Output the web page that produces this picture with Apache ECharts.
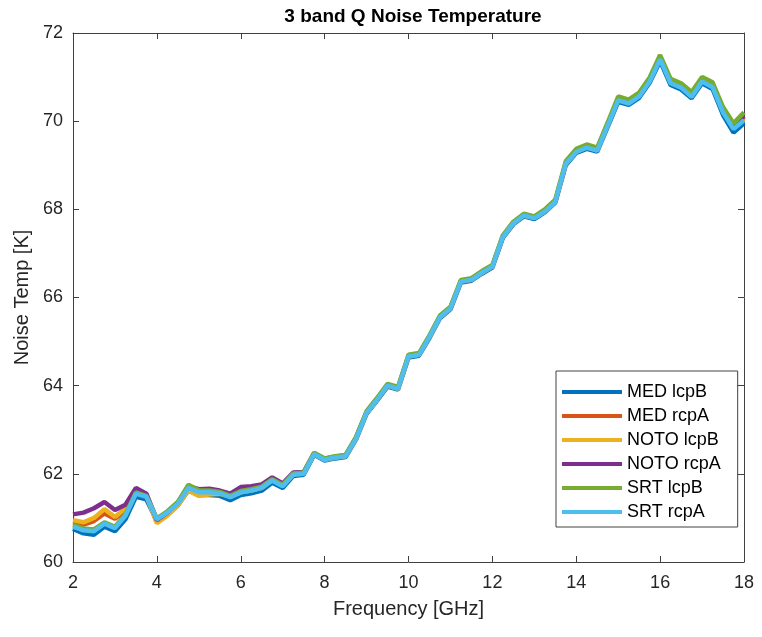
<!DOCTYPE html>
<html>
<head>
<meta charset="utf-8">
<script src="https://cdn.jsdelivr.net/npm/echarts@6/dist/echarts.min.js"></script>
<style>html,body{margin:0;padding:0;background:#fff;}#c{width:762px;height:637px;}</style>
</head>
<body>
<div id="c"></div>
<script>
// Frequency points (GHz), step 0.25 from 2 to 18
var freq = [2.00,2.25,2.50,2.75,3.00,3.25,3.50,3.75,4.00,4.25,4.50,4.75,5.00,5.25,5.50,5.75,
  6.00,6.25,6.50,6.75,7.00,7.25,7.50,7.75,8.00,8.25,8.50,8.75,9.00,9.25,9.50,9.75,
  10.00,10.25,10.50,10.75,11.00,11.25,11.50,11.75,12.00,12.25,12.50,12.75,13.00,13.25,13.50,13.75,
  14.00,14.25,14.50,14.75,15.00,15.25,15.50,15.75,16.00,16.25,16.50,16.75,17.00,17.25,17.50,17.75,18.00];

var medLcpB = [60.75,60.65,60.62,60.80,60.70,60.97,61.48,61.42,60.93,61.08,61.28,61.62,61.52,61.52,61.50,61.40,
  61.52,61.56,61.62,61.80,61.68,61.95,61.98,62.43,62.30,62.35,62.38,62.78,63.36,63.66,63.98,63.91,
  64.64,64.68,65.08,65.53,65.73,66.34,66.38,66.54,66.68,67.35,67.66,67.84,67.78,67.93,68.15,69.00,
  69.28,69.37,69.31,69.87,70.44,70.37,70.53,70.87,71.36,70.82,70.72,70.52,70.86,70.73,70.14,69.74,69.95];

var medRcpA = [60.90,60.85,60.93,61.10,60.98,61.17,61.65,61.52,60.90,61.08,61.30,61.70,61.62,61.62,61.58,61.50,
  61.60,61.64,61.70,61.87,61.74,62.00,62.02,62.46,62.33,62.38,62.41,62.81,63.39,63.69,64.01,63.94,
  64.67,64.71,65.11,65.56,65.76,66.37,66.41,66.57,66.71,67.38,67.69,67.87,67.81,67.96,68.18,69.04,
  69.32,69.42,69.35,69.92,70.50,70.43,70.59,70.93,71.44,70.90,70.80,70.60,70.95,70.82,70.25,69.88,70.10];

var notoLcpB = [60.95,60.90,61.00,61.20,61.02,61.22,61.62,61.50,60.88,61.05,61.28,61.62,61.50,61.53,61.55,61.48,
  61.58,61.62,61.68,61.86,61.73,61.99,62.01,62.45,62.32,62.37,62.40,62.80,63.38,63.68,64.00,63.93,
  64.66,64.70,65.10,65.55,65.75,66.36,66.40,66.56,66.70,67.37,67.68,67.86,67.80,67.95,68.17,69.03,
  69.31,69.41,69.34,69.91,70.49,70.42,70.58,70.92,71.43,70.89,70.79,70.58,70.93,70.80,70.22,69.86,70.06];

var notoRcpA = [61.08,61.12,61.22,61.36,61.18,61.30,61.68,61.55,60.95,61.12,61.35,61.72,61.65,61.66,61.62,61.55,
  61.70,61.72,61.76,61.92,61.78,62.03,62.04,62.47,62.34,62.39,62.42,62.82,63.40,63.70,64.01,63.95,
  64.67,64.71,65.11,65.56,65.76,66.37,66.41,66.57,66.71,67.38,67.69,67.87,67.81,67.96,68.18,69.04,
  69.32,69.42,69.35,69.92,70.50,70.43,70.59,70.93,71.44,70.91,70.81,70.60,70.96,70.84,70.26,69.90,70.12];

var srtLcpB = [60.84,60.76,60.74,60.90,60.80,61.08,61.58,61.50,60.99,61.15,61.36,61.75,61.63,61.62,61.59,61.50,
  61.61,61.65,61.71,61.88,61.75,62.01,62.03,62.48,62.35,62.40,62.43,62.84,63.42,63.72,64.04,63.97,
  64.70,64.74,65.14,65.59,65.79,66.40,66.44,66.60,66.74,67.41,67.72,67.90,67.84,68.00,68.22,69.09,
  69.37,69.47,69.40,69.97,70.56,70.49,70.65,70.99,71.50,70.96,70.86,70.66,71.00,70.88,70.32,69.95,70.20];

var srtRcpA = [60.80,60.72,60.70,60.87,60.77,61.05,61.55,61.48,60.97,61.12,61.32,61.68,61.58,61.58,61.56,61.47,
  61.58,61.62,61.68,61.85,61.72,61.98,62.00,62.45,62.32,62.37,62.40,62.80,63.38,63.68,64.00,63.93,
  64.66,64.70,65.10,65.55,65.75,66.36,66.40,66.56,66.70,67.37,67.68,67.86,67.80,67.95,68.17,69.03,
  69.30,69.40,69.33,69.90,70.47,70.40,70.56,70.90,71.40,70.86,70.76,70.55,70.90,70.77,70.20,69.82,70.02];

var seriesNames = ['MED lcpB','MED rcpA','NOTO lcpB','NOTO rcpA','SRT lcpB','SRT rcpA'];
var seriesValues = [medLcpB, medRcpA, notoLcpB, notoRcpA, srtLcpB, srtRcpA];
var colors = ['#0072BD','#D95319','#EDB120','#7E2F8E','#77AC30','#4DBEEE'];

var font = "'Liberation Sans', Arial, Helvetica, sans-serif";
var txt = '#262626';
var axisCol = '#404040';

function pairs(vals){ return freq.map(function(f,i){ return [f, vals[i]]; }); }

var chart = echarts.init(document.getElementById('c'), null, {renderer:'canvas'});
var common = {
  axisLine:{show:true, onZero:false, lineStyle:{color:axisCol, width:1}},
  axisTick:{show:true, inside:true, length:6, lineStyle:{color:axisCol}},
  splitLine:{show:false}
};
chart.setOption({
  animation:false,
  backgroundColor:'#fff',
  color: colors,
  title:{text:'3 band Q Noise Temperature', left:408, textAlign:'center', top:2,
    textStyle:{fontFamily:font, fontWeight:'bold', fontSize:19, color:'#000'}},
  grid:{left:73, right:18, top:33, bottom:75, containLabel:false},
  legend:{
    orient:'vertical', left:556, top:371,
    padding:[12,17,6,6], itemGap:6, itemWidth:60, itemHeight:18,
    icon:'path://M0,0L60,0L60,4L0,4Z',
    backgroundColor:'#fff', borderColor:'#404040', borderWidth:1, borderRadius:0,
    textStyle:{fontFamily:font, fontSize:18, color:'#000', padding:[0,0,0,0]},
    data: seriesNames
  },
  xAxis:[
    Object.assign({type:'value', min:2, max:18, interval:2, position:'bottom',
      name:'Frequency [GHz]', nameLocation:'middle', nameGap:37,
      nameTextStyle:{fontFamily:font, fontSize:20, color:txt},
      axisLabel:{fontFamily:font, fontSize:18, color:txt, margin:12}}, common),
    Object.assign({type:'value', min:2, max:18, interval:2, position:'top',
      axisLabel:{show:false}}, common)
  ],
  yAxis:[
    Object.assign({type:'value', min:60, max:72, interval:2, position:'left',
      name:'Noise Temp [K]', nameLocation:'middle', nameGap:37,
      nameTextStyle:{fontFamily:font, fontSize:20, color:txt},
      axisLabel:{fontFamily:font, fontSize:18, color:txt, margin:10}}, common),
    Object.assign({type:'value', min:60, max:72, interval:2, position:'right',
      axisLabel:{show:false}}, common)
  ],
  series: seriesNames.map(function(n,i){
    return {name:n, type:'line', data:pairs(seriesValues[i]), symbol:'none', showSymbol:false,
      lineStyle:{width:4.5, color:colors[i]}, itemStyle:{color:colors[i]}, z:2+i};
  })
});
</script>
</body>
</html>
